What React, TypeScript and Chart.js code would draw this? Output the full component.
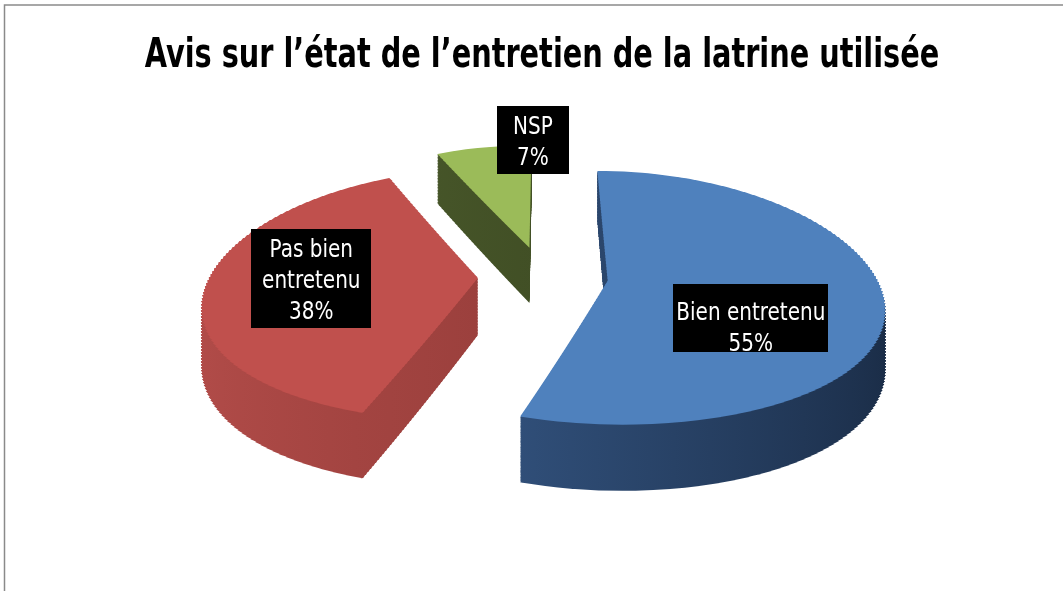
import React, { useEffect, useRef } from 'react';
import { Chart, registerables } from 'chart.js';

Chart.register(...registerables);

// ---- data ----
const categories = ['Bien entretenu', 'Pas bien entretenu', 'NSP'];
const labelLines = [['Bien entretenu'], ['Pas bien', 'entretenu'], ['NSP']];
const values = [55, 38, 7];
const titleText = 'Avis sur l’état de l’entretien de la latrine utilisée';

// ---- style ----
const topColors = ['#4f81bd', '#c0504d', '#9bbb59'];
const sideColors = [
  ['#3b6092', '#1a2c46'],
  ['#b24c49', '#853431'],
  ['#4b5b2c', '#38441f'],
];
const NARROW = "'DejaVu Sans Condensed', 'Liberation Sans Narrow', sans-serif";
const TILT = 0.46; // vertical squash of the pie plane
const PERSP = 0.0005; // perspective strength (vertical)
const PERSP_X = 0.0007; // perspective strength (horizontal)
const DEPTH = 57; // thickness of the pie
const EXPLODE = 65; // explosion distance (plane px)
const RADIUS = 268;
const BAND = 3;
const LABEL_PLACE = [
  { r: 0.525, dx: 0, dy: 27, padX: 3, textDy: 8 },
  { r: 0.615, dx: 0, dy: -4, padX: 11, textDy: 0 },
  { r: 1.0, dx: 49, dy: -7, padX: 16, textDy: 0 },
];
const LABEL_FONT = 25;
const LABEL_LINE = 31;
const TEXT_SCALE = 0.89;
const TITLE_SCALE = 0.78;

function screenY(v: number, d: number) {
  return (TILT * v + d) / (1 - PERSP * v);
}
function scaleX(v: number) {
  return 1 / (1 - PERSP_X * v);
}

const pie3d = {
  id: 'pie3d',
  beforeDraw(chart: any) {
    const ctx = chart.ctx as CanvasRenderingContext2D;
    ctx.save();
    ctx.fillStyle = '#ffffff';
    ctx.fillRect(0, 0, chart.width, chart.height);
    ctx.strokeStyle = '#8a8a8a';
    ctx.lineWidth = 1.5;
    ctx.strokeRect(4.5, 5, chart.width + 100, chart.height + 100);
    // title
    ctx.font = `bold 41px ${NARROW}`;
    ctx.fillStyle = '#000000';
    ctx.textAlign = 'center';
    ctx.textBaseline = 'alphabetic';
    ctx.translate(542, 67);
    ctx.scale(TITLE_SCALE, 1);
    ctx.fillText(titleText, 0, 0);
    ctx.restore();
  },
  beforeDatasetsDraw(chart: any) {
    const ctx = chart.ctx as CanvasRenderingContext2D;
    const W = chart.width;
    const arcs = chart.getDatasetMeta(0).data as any[];
    const items = arcs.map((el, i) => {
      const h = (el.startAngle + el.endAngle) / 2;
      return { el, i, ex: Math.cos(h) * EXPLODE, ey: Math.sin(h) * EXPLODE };
    });
    items.sort((a, b) => a.ey - b.ey);
    for (const it of items) {
      const { el, i } = it;
      const Cx = el.x;
      const Cy = el.y;
      const R = el.outerRadius;
      const vlo = it.ey - R - 1;
      const vhi = it.ey + R + 1;
      const g = ctx.createLinearGradient(Cx - R, 0, Cx + R, 0);
      g.addColorStop(0, sideColors[i][0]);
      g.addColorStop(1, sideColors[i][1]);
      const orig = el.options;
      const sideOpts = { ...orig, backgroundColor: g, borderWidth: 0 };
      const top = Math.floor(Cy + screenY(vlo, 0)) - 2;
      const bot = Math.ceil(Cy + screenY(vhi, DEPTH)) + 2;
      for (let Yb = top; Yb < bot; Yb += BAND) {
        const ym = Yb + BAND / 2 - Cy;
        for (let d = DEPTH; d >= 0; d--) {
          const vm = (ym - d) / (TILT + PERSP * ym);
          if (vm < vlo || vm > vhi) continue;
          const s = 1 / (1 - PERSP * vm);
          const sx = scaleX(vm);
          const dyv = (TILT + PERSP * d) * s * s;
          el.options = d === 0 ? orig : sideOpts;
          ctx.save();
          ctx.beginPath();
          ctx.rect(0, Yb, W, BAND);
          ctx.clip();
          ctx.transform(sx, 0, 0, dyv, Cx + sx * (it.ex - Cx), Cy + ym + dyv * (it.ey - Cy - vm));
          el.draw(ctx);
          ctx.restore();
        }
      }
      el.options = orig;
    }
    return false;
  },
  afterDraw(chart: any) {
    const ctx = chart.ctx as CanvasRenderingContext2D;
    const arcs = chart.getDatasetMeta(0).data as any[];
    const total = values.reduce((a, b) => a + b, 0);
    ctx.save();
    ctx.font = `${LABEL_FONT}px ${NARROW}`;
    ctx.textAlign = 'center';
    ctx.textBaseline = 'alphabetic';
    arcs.forEach((el, i) => {
      const h = (el.startAngle + el.endAngle) / 2;
      const p = LABEL_PLACE[i];
      const L = EXPLODE + p.r * el.outerRadius;
      const u = Math.cos(h) * L;
      const v = Math.sin(h) * L;
      const x = el.x + u * scaleX(v) + p.dx;
      const y = el.y + screenY(v, 0) + p.dy;
      const lines = [...labelLines[i], Math.round((values[i] / total) * 100) + '%'];
      const w = Math.max(...lines.map((l) => ctx.measureText(l).width)) * TEXT_SCALE + p.padX * 2;
      const hgt = lines.length * LABEL_LINE + 6;
      ctx.fillStyle = '#000000';
      ctx.fillRect(Math.round(x - w / 2), Math.round(y - hgt / 2), Math.round(w), Math.round(hgt));
      ctx.fillStyle = '#ffffff';
      const tc = y + p.textDy;
      lines.forEach((l, k) => {
        const by = tc + 9 + (k - (lines.length - 1) / 2) * LABEL_LINE;
        ctx.save();
        ctx.translate(x, by);
        ctx.scale(TEXT_SCALE, 1);
        ctx.fillText(l, 0, 0);
        ctx.restore();
      });
    });
    ctx.restore();
  },
};

export default function App() {
  const ref = useRef<HTMLCanvasElement | null>(null);
  useEffect(() => {
    if (!ref.current) return;
    const chart = new Chart(ref.current, {
      type: 'pie',
      data: {
        labels: categories,
        datasets: [
          {
            data: values,
            backgroundColor: topColors,
            borderWidth: 0,
            offset: 0,
            hoverOffset: 0,
          },
        ],
      },
      options: {
        animation: false,
        responsive: true,
        maintainAspectRatio: false,
        events: [],
        radius: RADIUS,
        layout: { padding: { left: 23, right: 0, top: 80, bottom: 119 } },
        plugins: {
          legend: { display: false },
          tooltip: { enabled: false },
          title: { display: false },
        },
      } as any,
      plugins: [pie3d],
    });
    return () => chart.destroy();
  }, []);
  return (
    <div style={{ position: 'absolute', left: 0, top: 0, width: 1063, height: 591, overflow: 'hidden', background: '#fff' }}>
      <canvas ref={ref} />
    </div>
  );
}
